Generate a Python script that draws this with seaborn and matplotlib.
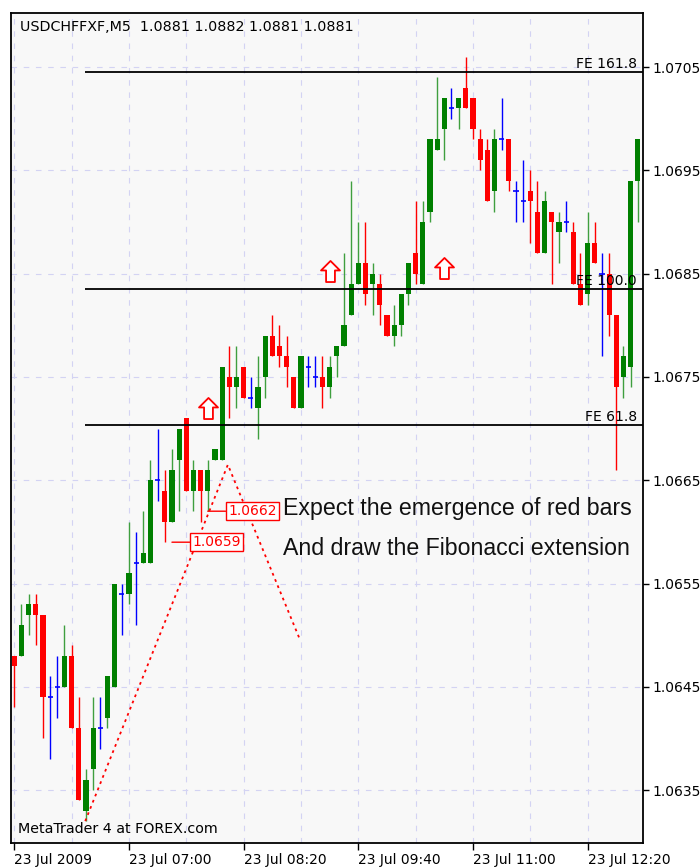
import numpy as np
import pandas as pd
import matplotlib
matplotlib.use("Agg")
import matplotlib.pyplot as plt
from matplotlib.path import Path
from matplotlib.markers import MarkerStyle
import seaborn as sns

# M5 bars of USDCHF (one pip = 0.0001)
opens = [1.0648, 1.0648, 1.0652, 1.0653, 1.0652, 1.0644, 1.0645, 1.0645, 1.0648, 1.0641,
         1.0633, 1.0637, 1.0641, 1.0642, 1.0645, 1.0654, 1.0654, 1.0657, 1.0657, 1.0657,
         1.0665, 1.0664, 1.0661, 1.0667, 1.0671, 1.0664, 1.0666, 1.0664, 1.0667, 1.0667,
         1.0675, 1.0674, 1.0676, 1.0673, 1.0672, 1.0675, 1.0679, 1.0678, 1.0677, 1.0675,
         1.0672, 1.0676, 1.0675, 1.0675, 1.0674, 1.0677, 1.0678, 1.0681, 1.0684, 1.0686,
         1.0684, 1.0684, 1.0681, 1.0679, 1.0680, 1.0683, 1.0687, 1.0684, 1.0691, 1.0697,
         1.0699, 1.0701, 1.0701, 1.0703, 1.0702, 1.0698, 1.0697, 1.0693, 1.0698, 1.0698,
         1.0693, 1.0692, 1.0693, 1.0691, 1.0687, 1.0691, 1.0689, 1.0690, 1.0689, 1.0684,
         1.0683, 1.0688, 1.0685, 1.0685, 1.0681, 1.0675, 1.0676, 1.0694]
highs = [1.0648, 1.0653, 1.0654, 1.0654, 1.0652, 1.0646, 1.0648, 1.0651, 1.0649, 1.0644,
         1.0637, 1.0644, 1.0644, 1.0646, 1.0655, 1.0655, 1.0661, 1.0660, 1.0662, 1.0667,
         1.0670, 1.0666, 1.0668, 1.0670, 1.0671, 1.0667, 1.0666, 1.0667, 1.0668, 1.0676,
         1.0678, 1.0678, 1.0676, 1.0675, 1.0677, 1.0679, 1.0681, 1.0680, 1.0679, 1.0675,
         1.0677, 1.0677, 1.0677, 1.0677, 1.0677, 1.0678, 1.0687, 1.0694, 1.0690, 1.0690,
         1.0686, 1.0685, 1.0681, 1.0682, 1.0683, 1.0686, 1.0692, 1.0692, 1.0698, 1.0704,
         1.0702, 1.0703, 1.0702, 1.0706, 1.0702, 1.0699, 1.0698, 1.0699, 1.0702, 1.0698,
         1.0694, 1.0696, 1.0695, 1.0694, 1.0693, 1.0691, 1.0691, 1.0692, 1.0690, 1.0687,
         1.0691, 1.0690, 1.0687, 1.0687, 1.0681, 1.0678, 1.0694, 1.0698]
lows = [1.0643, 1.0648, 1.0650, 1.0649, 1.0640, 1.0638, 1.0642, 1.0645, 1.0641, 1.0634,
        1.0632, 1.0635, 1.0639, 1.0641, 1.0645, 1.0650, 1.0653, 1.0651, 1.0657, 1.0657,
        1.0663, 1.0659, 1.0661, 1.0662, 1.0664, 1.0662, 1.0661, 1.0662, 1.0667, 1.0667,
        1.0671, 1.0672, 1.0673, 1.0672, 1.0669, 1.0673, 1.0677, 1.0676, 1.0674, 1.0672,
        1.0672, 1.0674, 1.0674, 1.0672, 1.0673, 1.0675, 1.0678, 1.0681, 1.0684, 1.0682,
        1.0681, 1.0680, 1.0679, 1.0678, 1.0679, 1.0682, 1.0684, 1.0684, 1.0690, 1.0697,
        1.0696, 1.0700, 1.0699, 1.0701, 1.0698, 1.0695, 1.0692, 1.0691, 1.0697, 1.0693,
        1.0690, 1.0690, 1.0688, 1.0687, 1.0687, 1.0684, 1.0686, 1.0689, 1.0684, 1.0682,
        1.0682, 1.0686, 1.0677, 1.0679, 1.0666, 1.0673, 1.0674, 1.0690]
closes = [1.0647, 1.0651, 1.0653, 1.0652, 1.0644, 1.0644, 1.0645, 1.0648, 1.0641, 1.0634,
          1.0636, 1.0641, 1.0641, 1.0646, 1.0655, 1.0654, 1.0656, 1.0657, 1.0658, 1.0665,
          1.0665, 1.0661, 1.0666, 1.0670, 1.0664, 1.0666, 1.0664, 1.0666, 1.0668, 1.0676,
          1.0674, 1.0675, 1.0673, 1.0673, 1.0674, 1.0679, 1.0677, 1.0677, 1.0676, 1.0672,
          1.0677, 1.0676, 1.0675, 1.0674, 1.0676, 1.0678, 1.0680, 1.0684, 1.0686, 1.0683,
          1.0685, 1.0682, 1.0679, 1.0680, 1.0683, 1.0686, 1.0685, 1.0690, 1.0698, 1.0698,
          1.0702, 1.0701, 1.0702, 1.0701, 1.0699, 1.0696, 1.0692, 1.0698, 1.0698, 1.0694,
          1.0693, 1.0692, 1.0692, 1.0687, 1.0692, 1.0690, 1.0690, 1.0690, 1.0684, 1.0682,
          1.0688, 1.0686, 1.0685, 1.0681, 1.0674, 1.0677, 1.0694, 1.0698]

time_labels = ['23 Jul 2009', '23 Jul 07:00', '23 Jul 08:20', '23 Jul 09:40', '23 Jul 11:00', '23 Jul 12:20']
time_label_bars = [0, 16, 32, 48, 64, 80]
price_ticks = [1.0635, 1.0645, 1.0655, 1.0665, 1.0675, 1.0685, 1.0695, 1.0705]

# Fibonacci extension: anchor points (bar, price) and the three levels
fib_bars = [9.9, 29.8, 39.9]
fib_prices = [1.0632, 1.06665, 1.06495]
fe_levels = [1.06703, 1.06835, 1.07045]
fe_names = ['FE 61.8', 'FE 100.0', 'FE 161.8']

# up-arrow signals and price labels
arrow_bars = [27, 44, 60]
arrow_prices = [1.06720, 1.06853, 1.06855]
label_bars = [27, 22]
label_prices = [1.0662, 1.0659]

df = pd.DataFrame({'bar': np.arange(len(opens)), 'open': opens, 'high': highs,
                   'low': lows, 'close': closes})
df['kind'] = np.where(df['close'] > df['open'], 'up',
                      np.where(df['close'] < df['open'], 'down', 'doji'))

body_col = {'up': '#008000', 'down': '#ff0000', 'doji': '#0000ff'}
wick_col = {'up': '#3f9f3f', 'down': '#ff0000', 'doji': '#0000ff'}

sns.set_theme(style='white')
plt.rcParams['font.family'] = ['DejaVu Sans']

fig = plt.figure(figsize=(7, 8.67), dpi=100)
fig.patch.set_facecolor('white')
ax = fig.add_axes([11 / 700, 24 / 867, 632 / 700, 830 / 867])
ax.set_facecolor('#f8f8f8')

ax.set_xlim(-0.46, 87.73)
ax.set_ylim(1.062988, 1.071023)

# grid
grid_kw = dict(color='#d3d3f3', linewidth=0.8, linestyle=(0, (5, 6)))
ax.set_xticks(range(8, 88, 8), minor=True)
ax.grid(True, which='minor', axis='x', **grid_kw)
ax.grid(True, which='major', axis='both', **grid_kw)
ax.set_axisbelow(True)

# wicks
ax.vlines(df['bar'], df['low'], df['high'], colors=df['kind'].map(wick_col), linewidth=1.0, zorder=2)

# bodies
real = df[df['kind'] != 'doji']
ax.bar(real['bar'], (real['close'] - real['open']).abs(),
       bottom=real[['open', 'close']].min(axis=1), width=0.72,
       color=real['kind'].map(body_col), linewidth=0, zorder=3)
doji = df[df['kind'] == 'doji']
ax.hlines(doji['close'], doji['bar'] - 0.36, doji['bar'] + 0.36, colors='#0000ff', linewidth=1.2, zorder=3)

# Fibonacci expansion levels
ax.hlines(fe_levels, fib_bars[0], 87.73, colors='black', linewidth=1.3, zorder=4)
for lev, name in zip(fe_levels, fe_names):
    ax.annotate(name, xy=(1, lev), xycoords=('axes fraction', 'data'), xytext=(-4.3, 3),
                textcoords='offset points', ha='right', va='baseline', fontsize=10, color='black', zorder=5)

# dotted Fibonacci anchor line
sns.lineplot(x=fib_bars, y=fib_prices, sort=False, color='red', linewidth=1.3,
             linestyle=(0, (1.5, 2.2)), ax=ax, zorder=4)

# up arrows
arrow = Path([(0, 1), (0.9, 0.1), (0.42, 0.1), (0.42, -1), (-0.42, -1), (-0.42, 0.1), (-0.9, 0.1), (0, 1)],
             [Path.MOVETO] + [Path.LINETO] * 6 + [Path.CLOSEPOLY])
ax.scatter(arrow_bars, arrow_prices, marker=MarkerStyle(arrow), s=230, facecolor='white',
           edgecolor='red', linewidth=1.3, zorder=6)

# price labels
for lb, lp in zip(label_bars, label_prices):
    ax.annotate(f'{lp:.4f}', xy=(lb, lp), xytext=(14.7, 0), textcoords='offset points',
                ha='left', va='center', fontsize=10, color='red',
                bbox=dict(boxstyle='square,pad=0.15', fc='white', ec='red', lw=1),
                arrowprops=dict(arrowstyle='-', color='red', lw=1, shrinkA=0, shrinkB=0), zorder=7)

# comments
ax.text(37.5, 1.066163, 'Expect the emergence of red bars', fontsize=16.7,
        family=['Liberation Sans', 'DejaVu Sans'], color='#111111', va='baseline', zorder=7)
ax.text(37.5, 1.065776, 'And draw the Fibonacci extension', fontsize=16.7,
        family=['Liberation Sans', 'DejaVu Sans'], color='#111111', va='baseline', zorder=7)

ax.text(0.0142, 0.983, 'USDCHFFXF,M5  1.0881 1.0882 1.0881 1.0881', transform=ax.transAxes,
        fontsize=10.3, va='center', ha='left', color='black')
ax.text(0.0110, 0.0169, 'MetaTrader 4 at FOREX.com', transform=ax.transAxes,
        fontsize=10.3, va='center', ha='left', color='black')

# axes
ax.set_xticks(time_label_bars)
ax.set_xticklabels(time_labels)
for t in ax.get_xticklabels():
    t.set_ha('left')
ax.set_yticks(price_ticks)
ax.set_yticklabels([f'{p:.4f}' for p in price_ticks])
ax.yaxis.tick_right()
ax.tick_params(axis='x', which='major', bottom=True, length=5, width=1, direction='out',
               pad=2, labelsize=10, colors='black')
ax.tick_params(axis='x', which='minor', length=0)
ax.tick_params(axis='y', right=True, left=False, length=4, width=1, direction='out',
               pad=3, labelsize=10, colors='black')
for s in ax.spines.values():
    s.set_color('black')
    s.set_linewidth(1.3)
    s.set_visible(True)
ax.set_xlabel('')
ax.set_ylabel('')

fig.savefig('out.png', dpi=100, facecolor='white')
